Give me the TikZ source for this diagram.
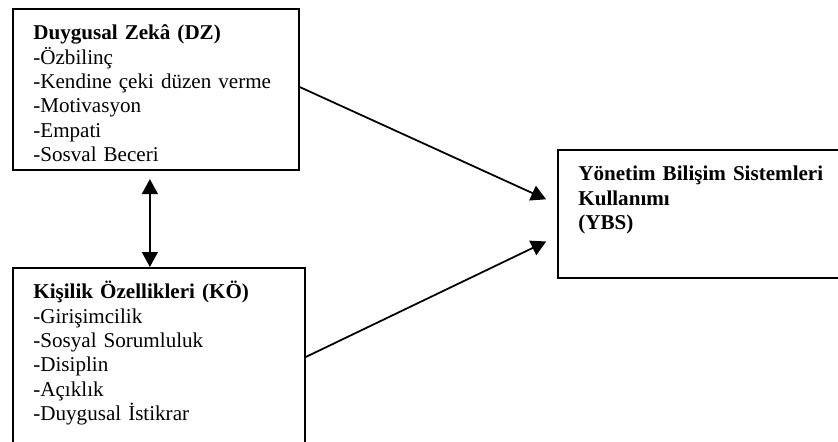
\documentclass[tikz,border=0pt]{standalone}
\usepackage{fontspec}
\setmainfont{Liberation Serif}
\usetikzlibrary{arrows.meta,positioning}

\begin{document}
\begin{tikzpicture}[
    box/.style={rectangle, draw, line width=1pt, align=left, anchor=north west, inner xsep=0.41cm, inner ysep=0.3cm, text height=9pt, font=\fontsize{12pt}{13.9pt}\selectfont},
    arrow/.style={-{Triangle[length=8.5pt, width=9pt]}, line width=1pt},
    twoway/.style={{Triangle[length=8.5pt, width=9pt]}-{Triangle[length=8.5pt, width=9pt]}, line width=1pt}
]

% Page frame
\useasboundingbox (0,0) rectangle (16.76,8.82);
\clip (0,0) rectangle (16.76,8.82);

% Boxes
\node[box, text width=4.90cm, text depth=2.31cm] (dz) at (0.24,8.66) {\textbf{Duygusal Zekâ (DZ)}\\-Özbilinç\\-Kendine çeki düzen verme\\-Motivasyon\\-Empati\\-Sosval Beceri};

\node[box, text width=5.02cm, text depth=4cm] (ko) at (0.24,3.48) {\textbf{Kişilik Özellikleri (KÖ)}\\-Girişimcilik\\-Sosyal Sorumluluk\\-Disiplin\\-Açıklık\\-Duygusal İstikrar};

\node[box, text width=5.2cm, text depth=1.64cm] (ybs) at (11.14,5.84) {\textbf{Yönetim Bilişim Sistemleri}\\\textbf{Kullanımı}\\\textbf{(YBS)}};

% Arrows
\draw[twoway, shorten <=0.16cm] ([xshift=-0.12cm]dz.south) -- ([xshift=-0.12cm]dz.south |- ko.north);
\draw[arrow, shorten >=0.24cm] ([yshift=0.05cm]dz.east) -- ([yshift=0.19cm]ybs.west);
\draw[arrow, shorten >=0.24cm] ([yshift=-1.8cm]ko.north east) -- ([yshift=-0.45cm]ybs.west);

\end{tikzpicture}
\end{document}
